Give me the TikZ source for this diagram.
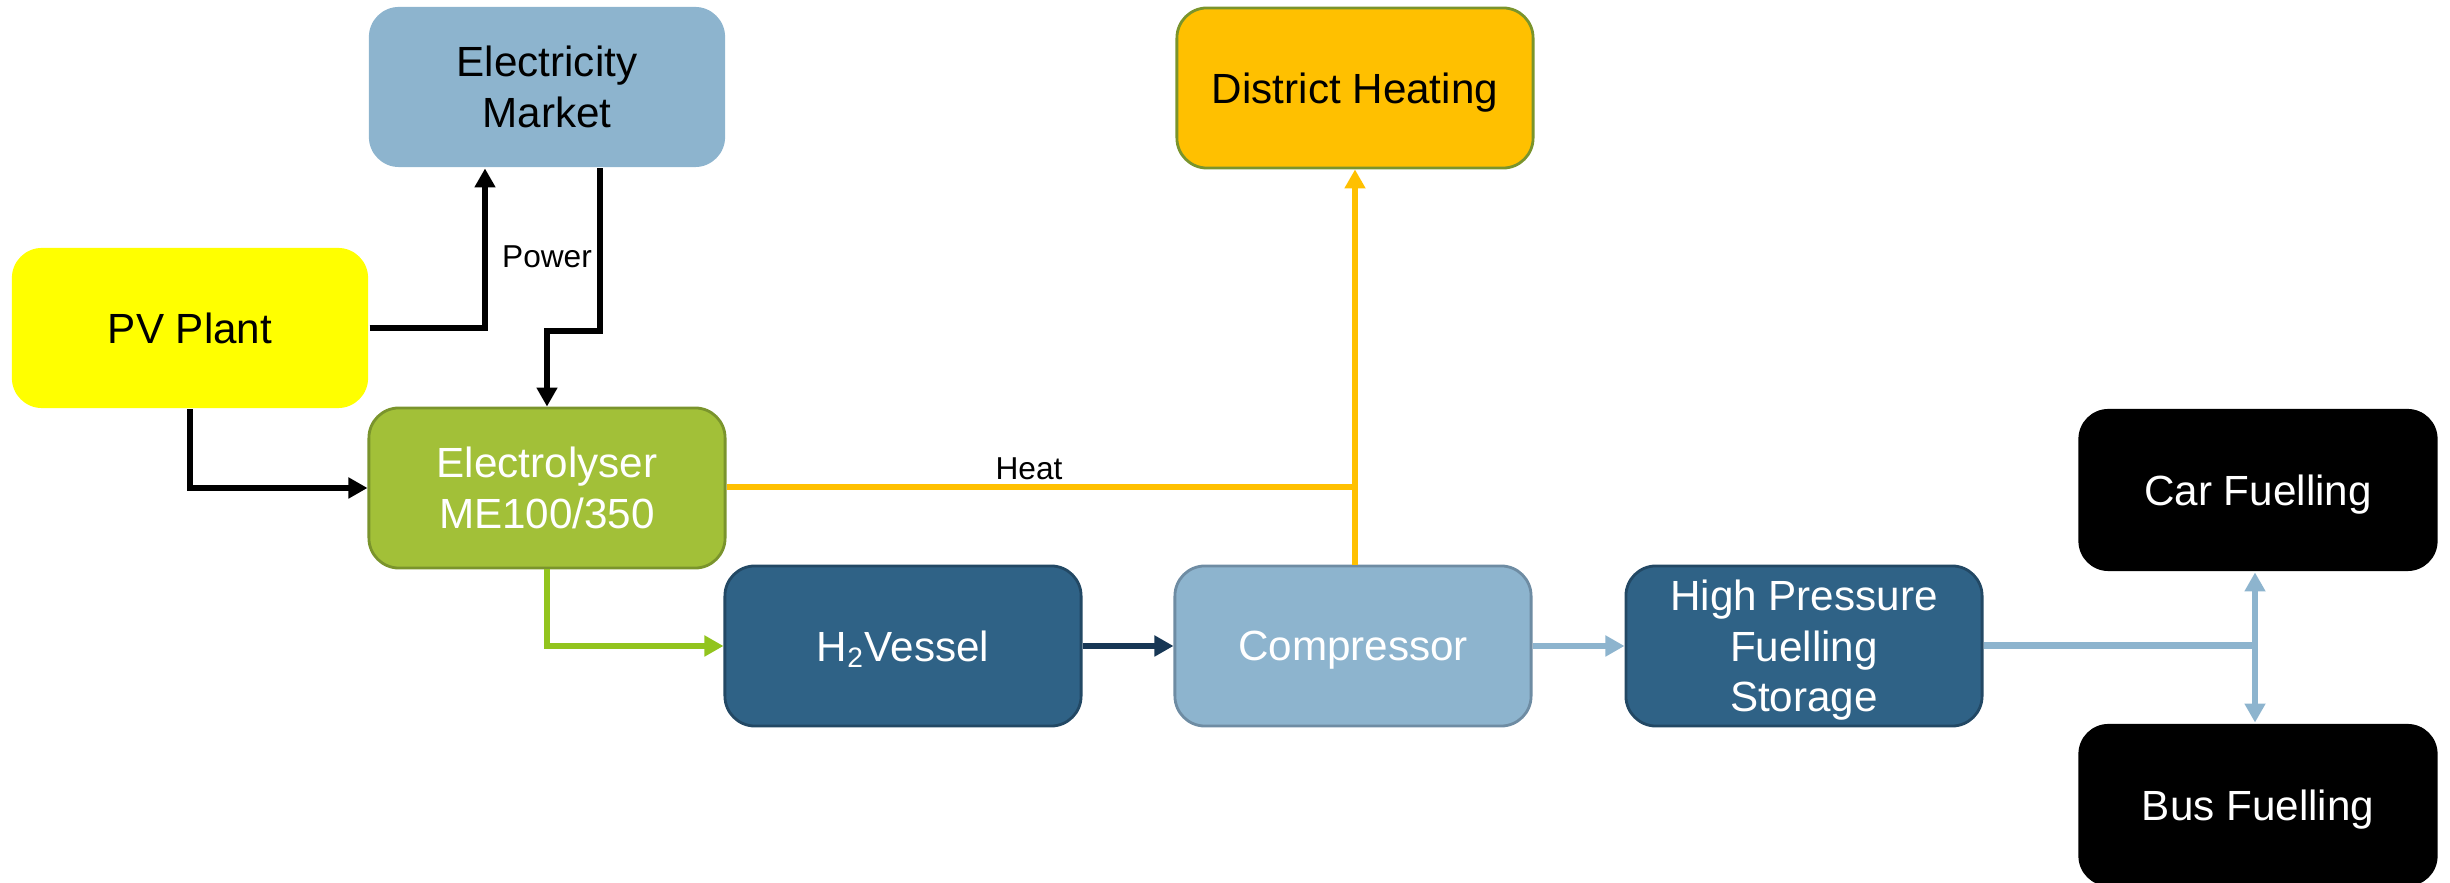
\documentclass[tikz,border=0pt]{standalone}
\usepackage{fontspec}
\setmainfont{Liberation Sans}
\usetikzlibrary{arrows.meta}
\definecolor{emblue}{RGB}{141,180,206}
\definecolor{pvyellow}{RGB}{255,255,0}
\definecolor{elgreen}{RGB}{162,192,56}
\definecolor{elborder}{RGB}{122,148,44}
\definecolor{dhorange}{RGB}{255,192,0}
\definecolor{navy}{RGB}{47,98,134}
\definecolor{navyborder}{RGB}{34,72,100}
\definecolor{compborder}{RGB}{110,140,163}
\definecolor{arrgreen}{RGB}{146,196,30}
\definecolor{arrnavy}{RGB}{23,55,85}
\begin{document}
\begin{tikzpicture}[x=0.01cm,y=-0.01cm,
  box/.style={rectangle, rounded corners=0.3cm, minimum width=3.56cm, minimum height=1.6cm,
    align=center, inner sep=0pt, line width=0.8pt, text depth=-0.08cm,
    font=\fontsize{12}{14.4}\selectfont},
  lbl/.style={font=\fontsize{9}{10.8}\selectfont, inner sep=1pt},
  tip/.style={-{Triangle[length=0.19cm,width=0.2cm]}},
  conn/.style={line width=0.06cm}]
\useasboundingbox (0,0) rectangle (2450,883);
% nodes
\node[box, fill=pvyellow, text=black] (pv) at (190,328) {PV Plant};
\node[box, fill=emblue, text=black] (em) at (547,87) {Electricity\\Market};
\node[box, fill=elgreen, draw=elborder, text=white] (el) at (547,488) {Electrolyser\\ME100/350};
\node[box, fill=navy, draw=navyborder, text=white] (h2) at (903,646) {H\textsubscript{2}Vessel};
\node[box, fill=emblue, draw=compborder, text=white] (comp) at (1353,646) {Compressor};
\node[box, fill=dhorange, draw=elborder, text=black] (dh) at (1355,88) {District Heating};
\node[box, fill=navy, draw=navyborder, text=white] (hps) at (1804,646) {High Pressure\\Fuelling\\Storage};
\node[box, fill=black, text=white, minimum width=3.59cm, minimum height=1.62cm] (car) at (2258,490) {Car Fuelling};
\node[box, fill=black, text=white, minimum width=3.59cm, minimum height=1.62cm] (bus) at (2258,805) {Bus Fuelling};
% coordinates
\coordinate (pvup) at (485,328);
\coordinate (embend) at (600,331);
\coordinate (heatj) at (1355,487);
\coordinate (fj) at (2255,646);
% connectors
\draw[conn, tip] (pv.east) -- (pvup) -- (pvup |- em.south);
\draw[conn, tip] (em.south -| embend) -- (embend) -| (el.north);
\draw[conn, tip] (pv.south) |- (el.west);
\node[lbl] (power) at (547,257) {Power};
\draw[conn, dhorange] (el.east |- heatj) -- (heatj);
\node[lbl] (heat) at (1029,469) {Heat};
\draw[conn, dhorange, tip] (comp.north -| heatj) -- (dh.south -| heatj);
\draw[conn, arrgreen, tip] (el.south) |- (h2.west);
\draw[conn, arrnavy, tip] (h2.east) -- (comp.west);
\draw[conn, emblue, tip] (comp.east) -- (hps.west);
\draw[line width=0.07cm, emblue] (hps.east) -- (fj);
\draw[conn, emblue, {Triangle[length=0.19cm,width=0.2cm]}-{Triangle[length=0.19cm,width=0.2cm]}] (car.south -| fj) -- (bus.north -| fj);
\end{tikzpicture}
\end{document}
